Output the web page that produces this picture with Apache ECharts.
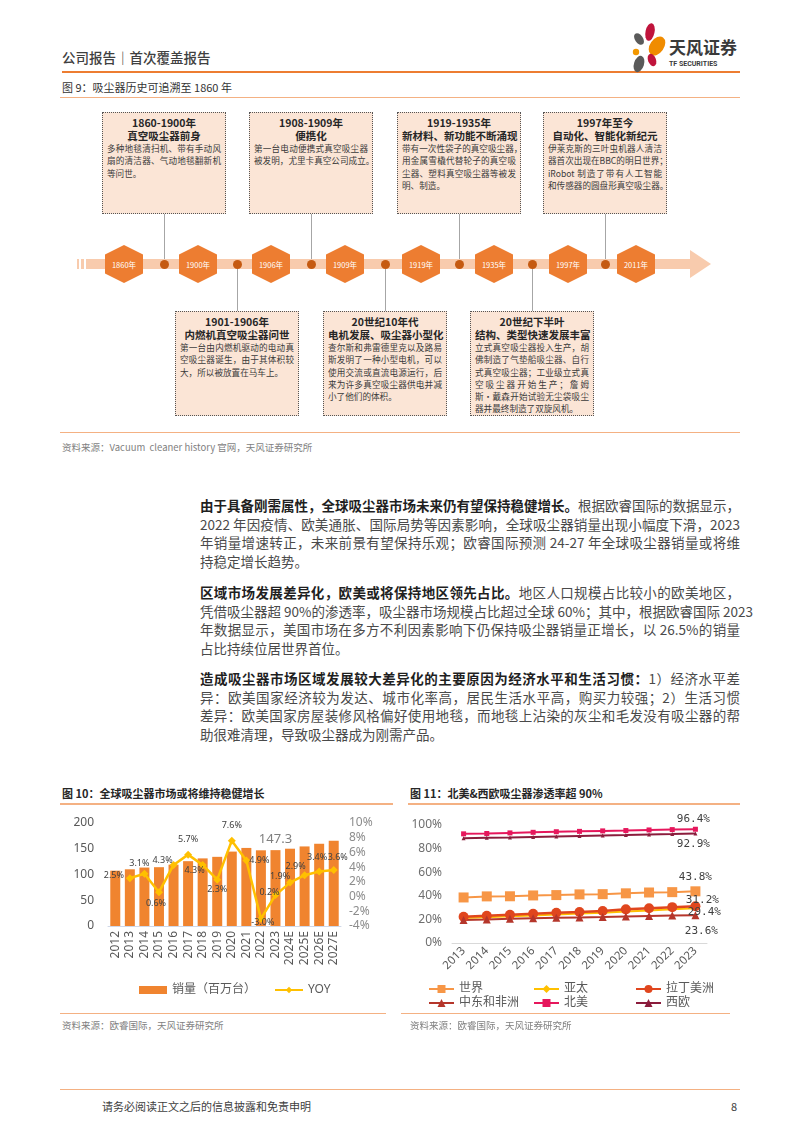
<!DOCTYPE html>
<html><head><meta charset="utf-8">
<script src="https://cdn.jsdelivr.net/npm/echarts/dist/echarts.min.js"></script>
<style>
html,body{margin:0;padding:0}
body{width:802px;height:1133px;position:relative;background:#fff;font-family:"Noto Sans CJK SC","Noto Sans",sans-serif;overflow:hidden;color:#404040}
.abs{position:absolute}
.hline{position:absolute;height:0}
.para{position:absolute;left:200px;width:540px;font-size:13.5px;line-height:18.5px;color:#4a4a4a}
.para div{text-align:justify;text-align-last:justify;white-space:nowrap;overflow:visible}
.para div.last{text-align-last:left}
.para b{color:#1f1f1f;font-weight:700}
.box{position:absolute;width:124px;background:#fbe5d6;border:1px dotted #555;box-sizing:border-box;padding:3px 4px 0 4px;color:#333}
.box .t{font-size:10.5px;font-weight:700;line-height:13px;text-align:center;white-space:nowrap;color:#262626}
.box .b{font-size:8.6px;line-height:12.3px;white-space:nowrap;text-align:justify;text-align-last:justify;color:#3a3a3a}
.box .b.last{text-align-last:left}
.hex{position:absolute;width:38px;height:38px;background:#ed7d31;clip-path:polygon(50% 0,100% 25%,100% 75%,50% 100%,0 75%,0 25%);color:#fff;font-size:7.5px;display:flex;align-items:center;justify-content:center}
.dot{position:absolute;width:9px;height:9px;border-radius:50%;background:#c55a11}
.vline{position:absolute;width:1px;background:#a6a6a6}
.src{position:absolute;font-size:9.5px;color:#7f7f7f;white-space:nowrap}
.cap{position:absolute;font-size:11px;font-weight:700;color:#262626;white-space:nowrap}
</style></head>
<body>
<!-- header -->
<div class="abs" style="left:62px;top:47px;font-size:13.5px;font-weight:500;color:#404040;white-space:nowrap">公司报告｜首次覆盖报告</div>
<div class="hline" style="left:62px;top:71px;width:678px;border-top:2px solid #ed7d31"></div>
<svg class="abs" style="left:626px;top:20px" width="120" height="56">
  <ellipse cx="13" cy="19" rx="4" ry="6.5" transform="rotate(-35 13 19)" fill="#5a5a5a"/>
  <ellipse cx="24" cy="12" rx="4.5" ry="9" transform="rotate(12 24 12)" fill="#c0143c"/>
  <ellipse cx="31" cy="26" rx="7" ry="10.5" transform="rotate(35 31 26)" fill="#f08c00"/>
  <circle cx="10" cy="32" r="3.2" fill="#f39800"/>
  <ellipse cx="13" cy="44" rx="5" ry="8.5" transform="rotate(18 13 44)" fill="#5a5a5a"/>
  <ellipse cx="26" cy="40" rx="4" ry="6.5" transform="rotate(-20 26 40)" fill="#c0143c"/>
  <text x="43" y="34" font-size="17" font-weight="700" fill="#3a3a3a" font-family="Noto Sans CJK SC">天风证券</text>
  <text x="43" y="46" font-size="7" font-weight="700" fill="#3a3a3a" font-family="Roboto">TF SECURITIES</text>
</svg>
<div class="abs" style="left:62px;top:79px;font-size:11px;color:#333;white-space:nowrap">图 9：吸尘器历史可追溯至 1860 年</div>
<div class="hline" style="left:60px;top:97px;width:680px;border-top:1.5px solid #f4b183"></div>

<div id="timeline"></div>

<div class="hline" style="left:60px;top:432px;width:680px;border-top:1.5px solid #f4b183"></div>
<div class="src" style="left:62px;top:440px">资料来源：Vacuum&nbsp; cleaner history 官网，天风证券研究所</div>

<div class="para" style="top:496px">
<div><b>由于具备刚需属性，全球吸尘器市场未来仍有望保持稳健增长。</b>根据欧睿国际的数据显示，</div>
<div>2022 年因疫情、欧美通胀、国际局势等因素影响，全球吸尘器销量出现小幅度下滑，2023</div>
<div>年销量增速转正，未来前景有望保持乐观；欧睿国际预测 24-27 年全球吸尘器销量或将维</div>
<div class="last">持稳定增长趋势。</div>
</div>
<div class="para" style="top:583px">
<div><b>区域市场发展差异化，欧美或将保持地区领先占比。</b>地区人口规模占比较小的欧美地区，</div>
<div>凭借吸尘器超 90%的渗透率，吸尘器市场规模占比超过全球 60%；其中，根据欧睿国际 2023</div>
<div>年数据显示，美国市场在多方不利因素影响下仍保持吸尘器销量正增长，以 26.5%的销量</div>
<div class="last">占比持续位居世界首位。</div>
</div>
<div class="para" style="top:669px">
<div><b>造成吸尘器市场区域发展较大差异化的主要原因为经济水平和生活习惯：</b>1）经济水平差</div>
<div>异：欧美国家经济较为发达、城市化率高，居民生活水平高，购买力较强；2）生活习惯</div>
<div>差异：欧美国家房屋装修风格偏好使用地毯，而地毯上沾染的灰尘和毛发没有吸尘器的帮</div>
<div class="last">助很难清理，导致吸尘器成为刚需产品。</div>
</div>

<div class="cap" style="left:62px;top:785px">图 10：全球吸尘器市场或将维持稳健增长</div>
<div class="cap" style="left:410px;top:785px">图 11：北美&amp;西欧吸尘器渗透率超 90%</div>
<div class="hline" style="left:60px;top:803px;width:333px;border-top:2px solid #f4b183"></div>
<div class="hline" style="left:408px;top:803px;width:332px;border-top:2px solid #f4b183"></div>

<div id="c1" class="abs" style="left:60px;top:805px;width:340px;height:205px"></div>
<div id="c2" class="abs" style="left:400px;top:805px;width:345px;height:210px"></div>

<div class="hline" style="left:60px;top:1013px;width:326px;border-top:1.5px solid #f4b183"></div>
<div class="hline" style="left:401px;top:1013px;width:329px;border-top:1.5px solid #f4b183"></div>
<div class="src" style="left:62px;top:1018px">资料来源：欧睿国际，天风证券研究所</div>
<div class="src" style="left:410px;top:1018px">资料来源：欧睿国际，天风证券研究所</div>

<div class="hline" style="left:60px;top:1089px;width:680px;border-top:1px solid #f4b183"></div>
<div class="abs" style="left:102px;top:1098px;font-size:11px;color:#404040;white-space:nowrap">请务必阅读正文之后的信息披露和免责申明</div>
<div class="abs" style="left:731px;top:1098px;font-size:11px;color:#404040">8</div>

<script>
// ---------- timeline content ----------
const hexYears = ['1860年','1900年','1906年','1909年','1919年','1935年','1997年','2011年'];
const topBoxes = [
  {t:['1860-1900年','真空吸尘器前身'], b:['多种地毯清扫机、带有手动风','扇的清洁器、气动地毯翻新机','等问世。']},
  {t:['1908-1909年','便携化'], b:['第一台电动便携式真空吸尘器','被发明，尤里卡真空公司成立。']},
  {t:['1919-1935年','新材料、新功能不断涌现'], b:['带有一次性袋子的真空吸尘器，','用金属雪橇代替轮子的真空吸','尘器、塑料真空吸尘器等被发','明、制造。']},
  {t:['1997年至今','自动化、智能化新纪元'], b:['伊莱克斯的三叶虫机器人清洁','器首次出现在BBC的明日世界；','iRobot 制造了带有人工智能','和传感器的圆盘形真空吸尘器。']}
];
const bottomBoxes = [
  {t:['1901-1906年','内燃机真空吸尘器问世'], b:['第一台由内燃机驱动的电动真','空吸尘器诞生，由于其体积较','大，所以被放置在马车上。']},
  {t:['20世纪10年代','电机发展、吸尘器小型化'], b:['查尔斯和弗雷德里克以及路易','斯发明了一种小型电机，可以','使用交流或直流电源运行，后','来为许多真空吸尘器供电并减','小了他们的体积。']},
  {t:['20世纪下半叶','结构、类型快速发展丰富'], b:['立式真空吸尘器投入生产，胡','佛制造了气垫船吸尘器、自行','式真空吸尘器；工业级立式真','空吸尘器开始生产；詹姆','斯·戴森开始试验无尘袋吸尘','器并最终制造了双旋风机。']}
];
// layout (positions only)
const hexX = [124,198,271,345,421,494,568,636];
const dotX = [164,237,311,385,459,532,605];
const lineY = 264;
(function(){
  const tl = document.getElementById('timeline');
  let h = '';
  h += `<div class="abs" style="left:77px;top:${lineY-5}px;width:2px;height:10px;background:#f8cbad"></div>`;
  h += `<div class="abs" style="left:81px;top:${lineY-5}px;width:3px;height:10px;background:#f8cbad"></div>`;
  h += `<div class="abs" style="left:86px;top:${lineY-5}px;width:605px;height:10px;background:#f8cbad"></div>`;
  h += `<div class="abs" style="left:690px;top:${lineY-14}px;width:21px;height:28px;background:#f8cbad;clip-path:polygon(0 0,100% 50%,0 100%)"></div>`;
  const boxHtml = b => b.t.map(s=>`<div class="t">${s}</div>`).join('') +
      b.b.map((s,i)=>`<div class="b${i===b.b.length-1?' last':''}">${s}</div>`).join('');
  topBoxes.forEach((b,i)=>{
    const cx = dotX[i*2];
    h += `<div class="vline" style="left:${cx}px;top:213px;height:${lineY-5-213}px"></div>`;
    h += `<div class="box" style="left:${cx-62}px;top:112px;height:102px">${boxHtml(b)}</div>`;
  });
  bottomBoxes.forEach((b,i)=>{
    const cx = dotX[i*2+1];
    h += `<div class="vline" style="left:${cx}px;top:${lineY+5}px;height:${311-lineY-5}px"></div>`;
    h += `<div class="box" style="left:${cx-62}px;top:311px;height:105px">${boxHtml(b)}</div>`;
  });
  hexYears.forEach((y,i)=>{ h += `<div class="hex" style="left:${hexX[i]-19}px;top:${lineY-19}px">${y}</div>`; });
  dotX.forEach(x=>{ h += `<div class="dot" style="left:${x-4.5}px;top:${lineY-4.5}px"></div>`; });
  tl.innerHTML = h;
})();

// ---------- chart 10 data ----------
const years1 = ['2012','2013','2014','2015','2016','2017','2018','2019','2020','2021','2022','2023','2024E','2025E','2026E','2027E'];
const sales = [107.4,110.1,113.5,114.2,119.1,125.9,131.3,134.3,144.5,151.6,147.0,147.3,150.1,154.5,159.7,165.5];
const yoy = [null,2.5,3.1,0.6,4.3,5.7,4.3,2.3,7.6,4.9,-3.0,0.2,1.9,2.9,3.4,3.6];
const leftTicks = [0,50,100,150,200];
const rightTicks = [-4,-2,0,2,4,6,8,10];
const yoyLabelOffset = [null,[-16,-3],[-5,-10],[-3,11],[-11,-4],[0,-15],[-8,6],[0,10],[0,-15],[13,0],[2,4],[-6,-3],[-10,-6],[-9,-9],[-2,-14],[4,-13]];
const barLabelIndex = 11;

// ---------- chart 11 data ----------
const years2 = ['2013','2014','2015','2016','2017','2018','2019','2020','2021','2022','2023'];
const world   = [38.6,39.5,39.6,40.3,40.6,41.2,41.4,42.1,42.8,43.1,43.8];
const apac    = [21.2,21.8,22.6,23.3,24.1,24.9,25.7,26.6,27.6,28.5,29.4];
const latam   = [22.3,23.0,24.0,24.8,25.6,26.2,27.1,28.5,29.5,30.4,31.2];
const mea     = [19.5,20.0,20.6,21.0,21.4,21.7,22.0,22.4,22.8,23.2,23.6];
const namer   = [92.5,92.8,93.3,93.8,94.3,94.6,95.0,95.3,95.8,96.1,96.4];
const weur    = [88.8,89.2,89.5,89.9,90.3,90.7,91.1,91.5,92.0,92.4,92.9];
const pctTicks = [0,20,40,60,80,100];
const legendOrder = ['世界','亚太','拉丁美洲','中东和非洲','北美','西欧'];

// ---------- chart 10 ----------
const c1 = echarts.init(document.getElementById('c1'));
c1.setOption({
  animation:false,
  textStyle:{fontFamily:'"Noto Sans","Noto Sans CJK SC",sans-serif'},
  grid:{left:48,right:59,top:18,height:103},
  legend:{top:174,left:74,itemWidth:28,itemHeight:8,itemGap:18,
    textStyle:{fontSize:12,color:'#595959'},
    data:[{name:'销量（百万台）',icon:'rect'},{name:'YOY'}]},
  xAxis:{type:'category',data:years1,axisTick:{show:false},
    axisLine:{lineStyle:{color:'#d0d8e8'}},
    axisLabel:{rotate:90,fontSize:12,color:'#595959',margin:5,interval:0}},
  yAxis:[
    {type:'value',min:leftTicks[0],max:leftTicks[leftTicks.length-1],interval:leftTicks[1]-leftTicks[0],
     splitLine:{show:false},axisLine:{show:false},axisLabel:{fontSize:12,color:'#595959',margin:14}},
    {type:'value',min:rightTicks[0],max:rightTicks[rightTicks.length-1],interval:rightTicks[1]-rightTicks[0],
     splitLine:{show:false},axisLine:{show:false},axisLabel:{fontSize:12,color:'#8c8c8c',formatter:'{value}%',margin:8}}
  ],
  series:[
    {type:'bar',name:'销量（百万台）',barWidth:10,itemStyle:{color:'#f0842f'},
     data:sales.map((v,i)=> i===barLabelIndex ? {value:v,label:{show:true,position:'top',distance:4,fontSize:13,color:'#7f7f7f',formatter:'{c}'}} : v)},
    {type:'line',name:'YOY',yAxisIndex:1,symbol:'diamond',symbolSize:8,
     lineStyle:{width:2.5,color:'#ffc000'},itemStyle:{color:'#ffc000'},
     label:{show:true,position:'inside',fontSize:9,color:'#404040',formatter:p=>p.value.toFixed(1)+'%'},
     data:yoy.map((v,i)=> v===null ? null : {value:v,label:{offset:yoyLabelOffset[i]}})}
  ]
});

// ---------- chart 11 ----------
const lastLabel = (arr, off) => arr.map((v,i)=> i===arr.length-1 ? {value:v,label:{show:true,offset:off}} : v);
const lbl = {show:false,position:'inside',fontSize:11,color:'#404040',fontFamily:'"DejaVu Sans Mono",monospace',formatter:p=>p.value.toFixed(1)+'%'};
const c2 = echarts.init(document.getElementById('c2'));
const legText = {fontSize:12,color:'#595959'};
const legPos = [[23,173],[128,173],[230,173],[23,187],[128,187],[230,187]];
c2.setOption({
  animation:false,
  textStyle:{fontFamily:'"Noto Sans","Noto Sans CJK SC",sans-serif'},
  grid:{left:52,right:38,top:20,height:118},
  legend: legendOrder.map((n,i)=>({left:legPos[i][0],top:legPos[i][1],itemWidth:25,itemHeight:10,textStyle:legText,data:[n]})),
  xAxis:{type:'category',data:years2,axisTick:{show:false},
    axisLine:{lineStyle:{color:'#d9d9d9'}},
    axisLabel:{rotate:45,fontSize:11.5,color:'#595959',margin:6,interval:0}},
  yAxis:{type:'value',min:pctTicks[0],max:pctTicks[pctTicks.length-1],interval:pctTicks[1]-pctTicks[0],
    splitLine:{show:false},axisLine:{show:false},axisLabel:{fontSize:12,color:'#6f6f6f',formatter:'{value}%',margin:10}},
  series:[
    {type:'line',name:'世界',symbol:'rect',symbolSize:10,lineStyle:{width:2,color:'#f79646'},itemStyle:{color:'#f79646'},label:lbl,data:lastLabel(world,[0,-14])},
    {type:'line',name:'亚太',symbol:'diamond',symbolSize:6,lineStyle:{width:2,color:'#ffc000'},itemStyle:{color:'#ffc000'},label:lbl,data:lastLabel(apac,[9,4])},
    {type:'line',name:'拉丁美洲',symbol:'circle',symbolSize:10,lineStyle:{width:2.5,color:'#e0461e'},itemStyle:{color:'#e0461e'},label:lbl,data:lastLabel(latam,[7,-6])},
    {type:'line',name:'中东和非洲',symbol:'triangle',symbolSize:8,lineStyle:{width:2,color:'#b5362b'},itemStyle:{color:'#b5362b'},label:lbl,data:lastLabel(mea,[6,16])},
    {type:'line',name:'北美',symbol:'rect',symbolSize:5,lineStyle:{width:2,color:'#e6175c'},itemStyle:{color:'#e6175c'},label:lbl,data:lastLabel(namer,[-2,-10])},
    {type:'line',name:'西欧',symbol:'triangle',symbolSize:4,lineStyle:{width:2,color:'#8b1c3c'},itemStyle:{color:'#8b1c3c'},label:lbl,data:lastLabel(weur,[-2,11])}
  ]
});
</script>
</body></html>
